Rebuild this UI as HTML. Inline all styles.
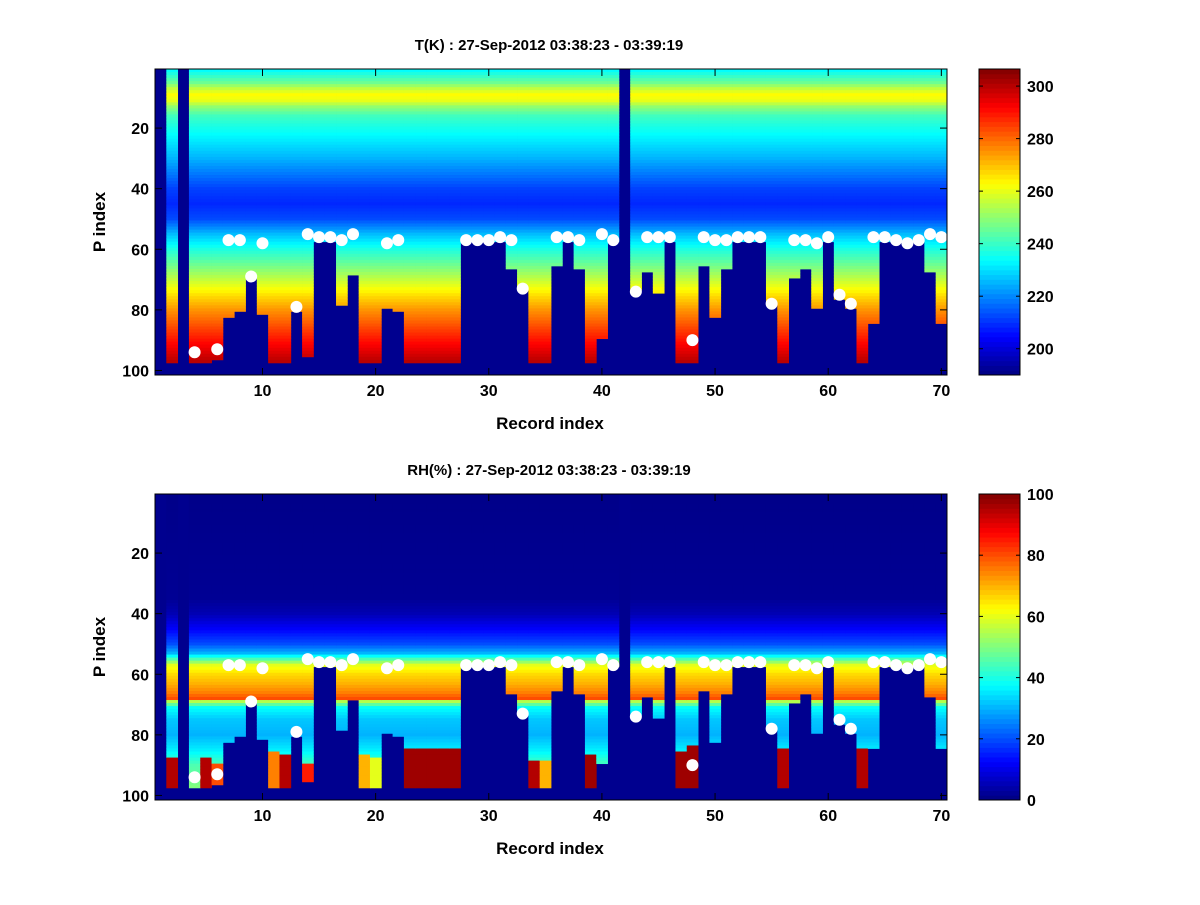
<!DOCTYPE html>
<html><head><meta charset="utf-8">
<style>
body{margin:0;background:#fff;}
svg text{font-family:"Liberation Sans",sans-serif;font-weight:bold;fill:#000;}
</style></head>
<body>
<svg id="fig" width="1200" height="900" xmlns="http://www.w3.org/2000/svg">
<rect width="1200" height="900" fill="#fff"/>
<g id="p1"></g>
<g id="p2"></g>
</svg>
<script>
// ---- data ----
const records = Array.from({length:70},(_,i)=>i+1);
// level index where data ends (blank below); 0 = entire column blank
const cutoff = [0,97,0,97,97,96,82,80,69,81,97,97,80,95,57,57,78,68,97,97,79,80,97,97,97,97,97,57,57,57,57,66,72,97,97,65,57,66,97,89,57,0,73,67,74,57,97,97,65,82,66,57,57,57,77,97,69,66,79,57,76,79,97,84,57,57,57,57,67,84];
// white marker level per record (null = none)
const dots = [null,null,null,94,null,93,57,57,69,58,null,null,79,55,56,56,57,55,null,null,58,57,null,null,null,null,null,57,57,57,56,57,73,null,null,56,56,57,null,55,57,null,74,56,56,56,null,90,56,57,57,56,56,56,78,null,57,57,58,56,75,78,null,56,56,57,58,57,55,56];
// temperature profile (K) at levels
const tLevels = [1,3,5,7,9,11,13,16,20,30,40,45,50,55,60,65,70,75,80,90,97];
const tValues = [234,240,246,256,263,260,250,241,236,225,212,209,213,226,237,246,256,266,275,290,300];
// RH profile (%)
const rhLevels = [1,35,40,45,50,53,55,57,60,63,66,68,69,71,75,80,85,90,97];
const rhValues = [1,2,5,12,20,30,45,60,66,70,75,80,55,38,32,30,36,45,50];
// near-surface saturated layers: record, start level, RH value
const wetRec = [2,5,6,11,12,14,19,20,23,24,25,26,27,34,35,39,47,48,56,63];
const wetStart = [88,88,90,86,87,90,87,88,84.5,84.5,84.5,84.5,84.5,88.5,89,86.5,86,84,85,85];
const wetVal = [95,95,80,75,95,85,70,60,97,97,97,97,97,95,70,97,97,97,95,95];
const xTicks = [10,20,30,40,50,60,70];
const yTicks = [20,40,60,80,100];
const tCbTicks = [200,220,240,260,280,300];
const rhCbTicks = [0,20,40,60,80,100];

const NS="http://www.w3.org/2000/svg";
function jet(v){
  v=Math.max(0,Math.min(1,v));
  const f=t=>Math.max(0,Math.min(1,1.5-Math.abs(4*v-t)));
  const r=f(3),g=f(2),b=f(1);
  return `rgb(${Math.round(r*255)},${Math.round(g*255)},${Math.round(b*255)})`;
}
function interp(xs,ys,x){
  if(x<=xs[0])return ys[0];
  for(let i=1;i<xs.length;i++) if(x<=xs[i]){const t=(x-xs[i-1])/(xs[i]-xs[i-1]);return ys[i-1]+t*(ys[i]-ys[i-1]);}
  return ys[ys.length-1];
}
function el(tag,attrs,parent){const e=document.createElementNS(NS,tag);for(const k in attrs)e.setAttribute(k,attrs[k]);parent.appendChild(e);return e;}

function panel(g, top, title, valFn, vmin, vmax, cbTicks, nm){
  const L=155,R=947,T=top,B=top+306;
  const xs=r=>L+(r-0.5)*(R-L)/70;
  const ys=l=>T+(l-0.5)*(B-T)/101;
  const blank="#00008f";
  const bg=el('rect',{x:L,y:T,width:R-L,height:B-T,fill:blank},g);
  
  
  const cells=el('g',{},g);
  
  
  records.forEach((r,i)=>{
    const c=cutoff[i];
    for(let l=1;l<=c;l++){
      const v=valFn(r,l);
      el('rect',{x:xs(r-0.5).toFixed(2),y:ys(l-0.5).toFixed(2),width:((R-L)/70+0.4).toFixed(2),height:((B-T)/101+0.4).toFixed(2),fill:jet((v-vmin)/(vmax-vmin))},cells);
    }
  });
  const dg=el('g',{},g);
  
  
  records.forEach((r,i)=>{ if(dots[i]!==null){
    const d=el('circle',{cx:xs(r),cy:ys(dots[i]),r:6,fill:'#fff'},dg);
    
    
  }});
  el('rect',{x:L,y:T,width:R-L,height:B-T,fill:'none',stroke:'#000','stroke-width':1},g);
  xTicks.forEach(t=>{
    const x=xs(t);
    el('line',{x1:x,y1:B,x2:x,y2:B-7,stroke:'#000'},g);
    el('line',{x1:x,y1:T,x2:x,y2:T+7,stroke:'#000'},g);
    const tx=el('text',{x:x,y:B+21,'font-size':16,'text-anchor':'middle'},g);tx.textContent=t;
    
    
  });
  yTicks.forEach(t=>{
    const y=ys(t);
    el('line',{x1:L,y1:y,x2:L+7,y2:y,stroke:'#000'},g);
    el('line',{x1:R,y1:y,x2:R-7,y2:y,stroke:'#000'},g);
    const tx=el('text',{x:L-6,y:y+6,'font-size':16,'text-anchor':'end'},g);tx.textContent=t;
    
    
  });
  const ti=el('text',{x:549,y:T-19,'font-size':15,'text-anchor':'middle'},g);ti.textContent=title;
  
  
  const xl=el('text',{x:550,y:B+54,'font-size':17,'text-anchor':'middle'},g);xl.textContent='Record index';
  
  
  const yl=el('text',{x:0,y:0,'font-size':17,'text-anchor':'middle',transform:`translate(105,${(T+B)/2}) rotate(-90)`},g);yl.textContent='P index';
  
  
  const cL=979,cR=1020;
  const cb=el('g',{},g);
  
  
  const n=64;
  for(let k=0;k<n;k++){
    const y0=B-(k+1)*(B-T)/n;
    el('rect',{x:cL,y:y0.toFixed(2),width:cR-cL,height:((B-T)/n+0.5).toFixed(2),fill:jet((k+0.5)/n)},cb);
  }
  el('rect',{x:cL,y:T,width:cR-cL,height:B-T,fill:'none',stroke:'#000'},cb);
  cbTicks.forEach(t=>{
    const y=B-(t-vmin)/(vmax-vmin)*(B-T);
    el('line',{x1:cL,y1:y,x2:cL+4,y2:y,stroke:'#000'},cb);
    el('line',{x1:cR,y1:y,x2:cR-4,y2:y,stroke:'#000'},cb);
    const tx=el('text',{x:cR+7,y:y+6,'font-size':16},cb);tx.textContent=t;
    
    
  });
}
panel(document.getElementById('p1'),69,'T(K) : 27-Sep-2012 03:38:23 - 03:39:19',
  (r,l)=>interp(tLevels,tValues,l),190,306.5,tCbTicks,'temperature');
panel(document.getElementById('p2'),494,'RH(%) : 27-Sep-2012 03:38:23 - 03:39:19',
  (r,l)=>{const w=wetRec.indexOf(r); if(w>=0 && l>=wetStart[w]) return wetVal[w]; return interp(rhLevels,rhValues,l);},0,100,rhCbTicks,'humidity');
</script>
</body></html>
